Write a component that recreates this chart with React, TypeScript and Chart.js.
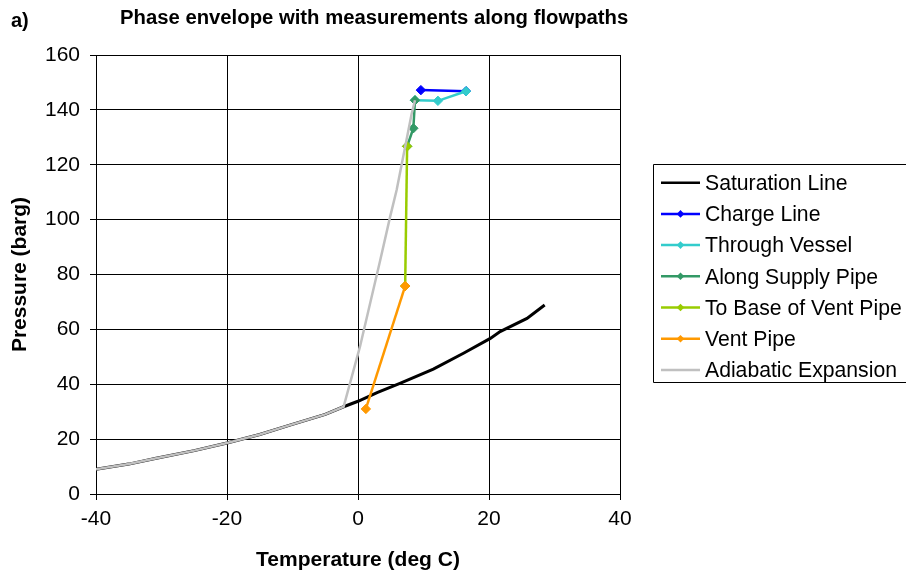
import React, { useEffect, useRef } from "react";
import { Chart, registerables } from "chart.js";

Chart.register(...registerables);

const FONT = '"Liberation Sans", Arial, Helvetica, sans-serif';

const titleText = "Phase envelope with measurements along flowpaths";
const panelLabel = "a)";
const xTitle = "Temperature (deg C)";
const yTitle = "Pressure (barg)";

const xTickValues = [-40, -20, 0, 20, 40];
const yTickValues = [0, 20, 40, 60, 80, 100, 120, 140, 160];

const seriesNames = [
  "Saturation Line",
  "Charge Line",
  "Through Vessel",
  "Along Supply Pipe",
  "To Base of Vent Pipe",
  "Vent Pipe",
  "Adiabatic Expansion",
];
const seriesColors = ["#000000", "#0000FF", "#33CCCC", "#339966", "#99CC00", "#FF9900", "#C0C0C0"];

const saturationT = [-40, -35, -30.8, -25, -20, -15, -10.4, -5, -2.2, 0, 3, 6.4, 11.5, 16.1, 20.2, 21.7, 25.8, 28.5];
const saturationP = [9.0, 10.9, 13.0, 15.8, 18.6, 21.7, 25.1, 29.0, 31.8, 33.8, 37.0, 40.3, 45.5, 51.3, 56.7, 59.2, 64.0, 68.9];

const chargeT = [9.6, 16.5];
const chargeP = [147.2, 146.8];

const vesselT = [16.5, 12.2, 8.7];
const vesselP = [146.8, 143.3, 143.5];

const supplyT = [8.7, 8.45, 7.5];
const supplyP = [143.5, 133.3, 126.7];

const baseT = [7.5, 7.2];
const baseP = [126.7, 75.8];

const ventT = [7.2, 1.2];
const ventP = [75.8, 31.0];

const adiabaticT = [-40, -35, -30.8, -25, -20, -15, -10.4, -5, -2.2, 0.3, 3.4, 4.9, 5.9, 8.2, 8.7];
const adiabaticP = [9.0, 10.9, 13.0, 15.8, 18.6, 21.7, 25.1, 29.0, 31.8, 53.7, 85.3, 101, 110.8, 138.7, 143.5];

const seriesT = [saturationT, chargeT, vesselT, supplyT, baseT, ventT, adiabaticT];
const seriesP = [saturationP, chargeP, vesselP, supplyP, baseP, ventP, adiabaticP];
const seriesMarkers = [false, true, true, true, true, true, false];
const seriesWidths = [3, 2.5, 2.5, 2.5, 2.5, 2.5, 2.5];

function zip(t: number[], p: number[]) {
  return t.map((x, i) => ({ x, y: p[i] }));
}

function diamond(ctx: CanvasRenderingContext2D, x: number, y: number, r: number) {
  ctx.beginPath();
  ctx.moveTo(x, y - r);
  ctx.lineTo(x + r, y);
  ctx.lineTo(x, y + r);
  ctx.lineTo(x - r, y);
  ctx.closePath();
  ctx.fill();
}

const textPlugin = {
  id: "titles",
  afterDraw(chart: any) {
    const ctx = chart.ctx as CanvasRenderingContext2D;
    ctx.save();
    ctx.fillStyle = "#000";
    ctx.textBaseline = "alphabetic";
    ctx.textAlign = "left";
    ctx.font = `bold 20px ${FONT}`;
    ctx.fillText(panelLabel, 11, 27);
    ctx.font = `bold 20.3px ${FONT}`;
    ctx.fillText(titleText, 120, 23.5);
    ctx.restore();
  },
};

const legendPlugin = {
  id: "boxLegend",
  afterDraw(chart: any) {
    const ctx = chart.ctx as CanvasRenderingContext2D;
    ctx.save();
    const left = 653.5, top = 164.5, bottom = 382.5, right = 910;
    ctx.strokeStyle = "#000";
    ctx.lineWidth = 1;
    ctx.beginPath();
    ctx.moveTo(right, top);
    ctx.lineTo(left, top);
    ctx.lineTo(left, bottom);
    ctx.lineTo(right, bottom);
    ctx.stroke();
    chart.data.datasets.forEach((ds: any, i: number) => {
      const y = 182.7 + i * 31.2;
      ctx.strokeStyle = ds.borderColor;
      ctx.lineWidth = 2.5;
      ctx.beginPath();
      ctx.moveTo(661, y);
      ctx.lineTo(700, y);
      ctx.stroke();
      if (ds.pointRadius > 0) {
        ctx.fillStyle = ds.borderColor;
        diamond(ctx, 680.5, y, 3.8);
      }
      ctx.fillStyle = "#000";
      ctx.font = `21.2px ${FONT}`;
      ctx.textAlign = "left";
      ctx.textBaseline = "alphabetic";
      ctx.fillText(ds.label, 705, y + 7.3);
    });
    ctx.restore();
  },
};

export default function App() {
  const ref = useRef<HTMLCanvasElement | null>(null);

  useEffect(() => {
    document.body.style.margin = "0";
    const canvas = ref.current;
    if (!canvas) return;
    const n = seriesNames.length;
    const datasets = seriesNames.map((name, i) => ({
      label: name,
      data: zip(seriesT[i], seriesP[i]),
      borderColor: seriesColors[i],
      backgroundColor: seriesColors[i],
      borderWidth: seriesWidths[i],
      pointRadius: seriesMarkers[i] ? 4.7 : 0,
      pointHoverRadius: seriesMarkers[i] ? 4.7 : 0,
      pointStyle: "rectRot",
      pointBorderWidth: 1,
      pointBackgroundColor: seriesColors[i],
      pointBorderColor: seriesColors[i],
      showLine: true,
      tension: 0,
      fill: false,
      order: n - i,
    }));

    const chart = new Chart(canvas, {
      type: "scatter",
      data: { datasets },
      options: {
        animation: false,
        responsive: false,
        devicePixelRatio: 1,
        layout: { padding: { left: 0, top: 55, right: 286, bottom: 0 } },
        plugins: {
          legend: { display: false },
          tooltip: { enabled: false },
          title: { display: false },
        },
        scales: {
          x: {
            type: "linear",
            min: -40,
            max: 40,
            afterBuildTicks: (scale: any) => {
              scale.ticks = xTickValues.map((v) => ({ value: v }));
            },
            afterFit: (scale: any) => {
              scale.height = 82;
            },
            grid: { color: "#000", lineWidth: 1, tickLength: 6, tickColor: "#000", drawTicks: true },
            border: { color: "#000", width: 1 },
            ticks: {
              color: "#000",
              padding: 7,
              font: { family: FONT, size: 21 },
              maxRotation: 0,
            },
            title: {
              display: true,
              text: xTitle,
              color: "#000",
              font: { family: FONT, size: 21, weight: "bold" },
              padding: { top: 0, bottom: 3 },
            },
          },
          y: {
            type: "linear",
            min: 0,
            max: 160,
            afterBuildTicks: (scale: any) => {
              scale.ticks = yTickValues.map((v) => ({ value: v }));
            },
            afterFit: (scale: any) => {
              scale.width = 96;
            },
            grid: { color: "#000", lineWidth: 1, tickLength: 6, tickColor: "#000", drawTicks: true },
            border: { color: "#000", width: 1 },
            ticks: {
              color: "#000",
              padding: 10,
              font: { family: FONT, size: 21 },
            },
            title: {
              display: true,
              text: yTitle,
              color: "#000",
              font: { family: FONT, size: 21, weight: "bold" },
              padding: { top: 8, bottom: 0 },
            },
          },
        },
      },
      plugins: [textPlugin, legendPlugin],
    } as any);

    return () => chart.destroy();
  }, []);

  return (
    <div style={{ width: 906, height: 576, position: "relative", background: "#fff" }}>
      <canvas ref={ref} width={906} height={576} style={{ width: 906, height: 576, display: "block" }} />
    </div>
  );
}
